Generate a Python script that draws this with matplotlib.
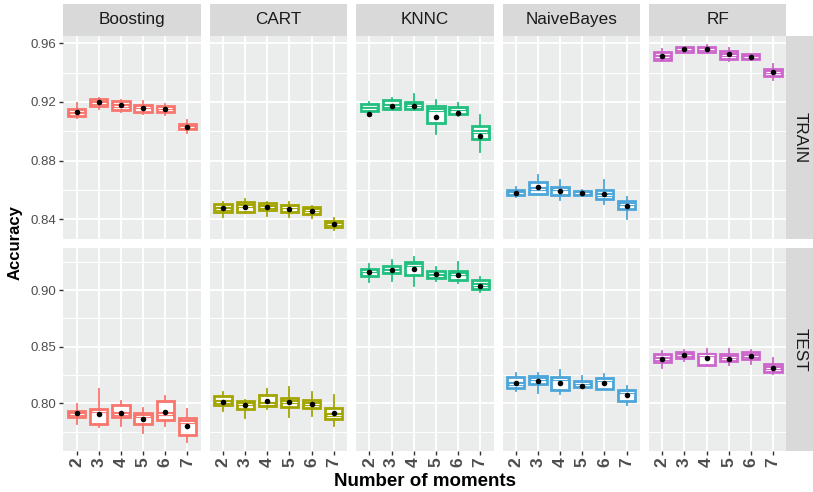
import numpy as np
import matplotlib.pyplot as plt
from matplotlib.ticker import FixedLocator

plt.rcParams['font.family'] = ['Liberation Sans', 'DejaVu Sans']

models = ["Boosting", "CART", "KNNC", "NaiveBayes", "RF"]
moments = ["2", "3", "4", "5", "6", "7"]
colors = ["#F8766D", "#A3A500", "#22BF80", "#4DA6D9", "#CC66CC"]
sets = ["TRAIN", "TEST"]

# box stats, one value per number of moments (2..7)
train_q1 = {
    "Boosting":   [0.9107, 0.9173, 0.9143, 0.9135, 0.9134, 0.9014],
    "CART":       [0.8450, 0.8450, 0.8464, 0.8448, 0.8435, 0.8348],
    "KNNC":       [0.9137, 0.9155, 0.9150, 0.9057, 0.9116, 0.8950],
    "NaiveBayes": [0.8564, 0.8573, 0.8566, 0.8564, 0.8537, 0.8469],
    "RF":         [0.9486, 0.9541, 0.9541, 0.9493, 0.9493, 0.9379],
}
train_q3 = {
    "Boosting":   [0.9152, 0.9220, 0.9207, 0.9180, 0.9173, 0.9050],
    "CART":       [0.8503, 0.8519, 0.8510, 0.8496, 0.8482, 0.8391],
    "KNNC":       [0.9186, 0.9214, 0.9202, 0.9173, 0.9166, 0.9039],
    "NaiveBayes": [0.8598, 0.8653, 0.8619, 0.8596, 0.8602, 0.8527],
    "RF":         [0.9539, 0.9573, 0.9573, 0.9545, 0.9525, 0.9425],
}
train_med = {
    "Boosting":   [0.9118, 0.9191, 0.9170, 0.9163, 0.9160, 0.9032],
    "CART":       [0.8469, 0.8491, 0.8482, 0.8482, 0.8464, 0.8365],
    "KNNC":       [0.9155, 0.9173, 0.9182, 0.9145, 0.9150, 0.8994],
    "NaiveBayes": [0.8582, 0.8605, 0.8605, 0.8582, 0.8566, 0.8507],
    "RF":         [0.9505, 0.9559, 0.9562, 0.9523, 0.9509, 0.9407],
}
train_lo = {
    "Boosting":   [0.9089, 0.9150, 0.9134, 0.9117, 0.9111, 0.8987],
    "CART":       [0.8418, 0.8442, 0.8423, 0.8414, 0.8407, 0.8330],
    "KNNC":       [0.9130, 0.9153, 0.9145, 0.8980, 0.9105, 0.8857],
    "NaiveBayes": [0.8555, 0.8573, 0.8530, 0.8560, 0.8507, 0.8400],
    "RF":         [0.9478, 0.9532, 0.9532, 0.9482, 0.9489, 0.9350],
}
train_hi = {
    "Boosting":   [0.9191, 0.9229, 0.9214, 0.9207, 0.9185, 0.9077],
    "CART":       [0.8519, 0.8537, 0.8517, 0.8515, 0.8491, 0.8410],
    "KNNC":       [0.9200, 0.9229, 0.9255, 0.9216, 0.9191, 0.9111],
    "NaiveBayes": [0.8621, 0.8703, 0.8669, 0.8600, 0.8669, 0.8550],
    "RF":         [0.9559, 0.9575, 0.9590, 0.9566, 0.9530, 0.9459],
}
train_mean = {
    "Boosting":   [0.9134, 0.9198, 0.9178, 0.9161, 0.9152, 0.9032],
    "CART":       [0.8476, 0.8485, 0.8485, 0.8469, 0.8455, 0.8371],
    "KNNC":       [0.9118, 0.9173, 0.9171, 0.9096, 0.9127, 0.8966],
    "NaiveBayes": [0.8582, 0.8621, 0.8594, 0.8582, 0.8571, 0.8489],
    "RF":         [0.9513, 0.9559, 0.9559, 0.9525, 0.9509, 0.9402],
}

test_q1 = {
    "Boosting":   [0.7876, 0.7817, 0.7876, 0.7814, 0.7850, 0.7723],
    "CART":       [0.7980, 0.7950, 0.7973, 0.7970, 0.7958, 0.7861],
    "KNNC":       [0.9127, 0.9148, 0.9130, 0.9104, 0.9091, 0.9006],
    "NaiveBayes": [0.8133, 0.8168, 0.8118, 0.8139, 0.8130, 0.8018],
    "RF":         [0.8360, 0.8401, 0.8342, 0.8374, 0.8389, 0.8280],
}
test_q3 = {
    "Boosting":   [0.7935, 0.7953, 0.7980, 0.7917, 0.8018, 0.7865],
    "CART":       [0.8065, 0.8024, 0.8074, 0.8044, 0.8029, 0.7962],
    "KNNC":       [0.9186, 0.9210, 0.9248, 0.9165, 0.9168, 0.9086],
    "NaiveBayes": [0.8233, 0.8245, 0.8233, 0.8197, 0.8227, 0.8115],
    "RF":         [0.8431, 0.8449, 0.8436, 0.8431, 0.8454, 0.8345],
}
test_med = {
    "Boosting":   [0.7903, 0.7932, 0.7903, 0.7888, 0.7903, 0.7835],
    "CART":       [0.8009, 0.7991, 0.7997, 0.8015, 0.7991, 0.7897],
    "KNNC":       [0.9165, 0.9165, 0.9224, 0.9127, 0.9145, 0.9045],
    "NaiveBayes": [0.8168, 0.8210, 0.8210, 0.8177, 0.8201, 0.8097],
    "RF":         [0.8392, 0.8422, 0.8422, 0.8410, 0.8413, 0.8312],
}
test_lo = {
    "Boosting":   [0.7814, 0.7790, 0.7799, 0.7741, 0.7799, 0.7661],
    "CART":       [0.7935, 0.7873, 0.7950, 0.7882, 0.7885, 0.7803],
    "KNNC":       [0.9073, 0.9082, 0.9032, 0.9080, 0.9062, 0.8980],
    "NaiveBayes": [0.8109, 0.8091, 0.8082, 0.8136, 0.8125, 0.7985],
    "RF":         [0.8307, 0.8369, 0.8325, 0.8334, 0.8345, 0.8254],
}
test_hi = {
    "Boosting":   [0.7997, 0.8124, 0.8018, 0.7962, 0.8065, 0.7947],
    "CART":       [0.8095, 0.8030, 0.8124, 0.8144, 0.8095, 0.8071],
    "KNNC":       [0.9227, 0.9263, 0.9292, 0.9206, 0.9245, 0.9115],
    "NaiveBayes": [0.8263, 0.8268, 0.8298, 0.8242, 0.8254, 0.8153],
    "RF":         [0.8458, 0.8469, 0.8478, 0.8478, 0.8469, 0.8401],
}
test_mean = {
    "Boosting":   [0.7912, 0.7909, 0.7917, 0.7858, 0.7926, 0.7799],
    "CART":       [0.8015, 0.7982, 0.8024, 0.8009, 0.7991, 0.7917],
    "KNNC":       [0.9157, 0.9177, 0.9189, 0.9139, 0.9133, 0.9035],
    "NaiveBayes": [0.8183, 0.8195, 0.8183, 0.8150, 0.8180, 0.8071],
    "RF":         [0.8395, 0.8422, 0.8401, 0.8395, 0.8419, 0.8310],
}

stats_by_set = {
    "TRAIN": (train_q1, train_q3, train_med, train_lo, train_hi, train_mean),
    "TEST": (test_q1, test_q3, test_med, test_lo, test_hi, test_mean),
}
ylims = {"TRAIN": (0.8268, 0.9652), "TEST": (0.7575, 0.9372)}
major_ticks = {"TRAIN": [0.84, 0.88, 0.92, 0.96], "TEST": [0.80, 0.85, 0.90]}
minor_ticks = {"TRAIN": [0.86, 0.90, 0.94], "TEST": [0.775, 0.825, 0.875, 0.925]}

W, H = 813, 492
fig = plt.figure(figsize=(W / 100, H / 100), dpi=100)


def px_axes(x0, y0, x1, y1):
    return fig.add_axes([x0 / W, 1 - y1 / H, (x1 - x0) / W, (y1 - y0) / H])


def blank(ax):
    ax.set_xticks([])
    ax.set_yticks([])
    for sp in ax.spines.values():
        sp.set_visible(False)


panel_left = 63.3
panel_w = 137.4
panel_step = 146.4
rows = [(35.7, 238.7), (248.0, 451.3)]
strip_bg = "#D9D9D9"
panel_bg = "#EBEDED"
text_grey = "#4D4D4D"

pos = np.arange(len(moments))

for r, s in enumerate(sets):
    q1s, q3s, meds, los, his, means = stats_by_set[s]
    y0, y1 = rows[r]
    for c, m in enumerate(models):
        x0 = panel_left + c * panel_step
        ax = px_axes(x0, y0, x0 + panel_w, y1)
        ax.set_facecolor(panel_bg)
        for sp in ax.spines.values():
            sp.set_visible(False)

        col = colors[c]
        bstats = []
        for i in range(len(moments)):
            bstats.append(dict(med=meds[m][i], q1=q1s[m][i], q3=q3s[m][i],
                               whislo=los[m][i], whishi=his[m][i], fliers=[]))
        ax.bxp(bstats, positions=pos, widths=0.78, patch_artist=True,
               showfliers=False, showcaps=False, manage_ticks=False,
               boxprops=dict(facecolor="white", edgecolor=col, lw=2.0),
               whiskerprops=dict(color=col, lw=1.3),
               medianprops=dict(color=col, lw=3.0, solid_capstyle="butt"),
               zorder=2)
        ax.hlines(meds[m], pos - 0.32, pos + 0.32, color="white", lw=0.8, zorder=3)
        ax.scatter(pos, means[m], s=16, color="black", zorder=4, linewidths=0)

        ax.set_xlim(-0.6, len(moments) - 0.4)
        ax.set_ylim(*ylims[s])
        ax.yaxis.set_major_locator(FixedLocator(major_ticks[s]))
        ax.yaxis.set_minor_locator(FixedLocator(minor_ticks[s]))
        ax.set_xticks(pos)
        ax.grid(True, which="major", color="white", lw=1.3, zorder=0)
        ax.grid(True, which="minor", axis="y", color="white", lw=0.7, zorder=0)
        ax.set_axisbelow(True)

        ax.tick_params(which="minor", length=0)
        ax.tick_params(which="major", length=3, width=1.0, color="#333333")
        if c == 0:
            ax.set_yticklabels(["{:.2f}".format(v) for v in major_ticks[s]],
                               fontsize=9.5, color=text_grey)
            ax.tick_params(axis="y", pad=2)
        else:
            ax.tick_params(axis="y", length=0, labelleft=False)
        if r == 1:
            ax.set_xticklabels(moments, rotation=90, fontsize=12.5,
                               fontweight="bold", color=text_grey)
            ax.tick_params(axis="x", pad=1.5)
        else:
            ax.tick_params(axis="x", length=0, labelbottom=False)

        if r == 0:
            st = px_axes(x0, 4, x0 + panel_w, y0)
            st.set_facecolor(strip_bg)
            blank(st)
            st.text(0.5, 0.5, m, ha="center", va="center", fontsize=12.3,
                    color="#1A1A1A", transform=st.transAxes)

    rs = px_axes(panel_left + 4 * panel_step + panel_w, y0, W, y1)
    rs.set_facecolor(strip_bg)
    blank(rs)
    rs.text(0.5, 0.5, s, ha="center", va="center", rotation=-90, fontsize=12.3,
            color="#1A1A1A", transform=rs.transAxes)

fig.text(15 / W, 1 - 243 / H, "Accuracy", rotation=90, ha="center", va="center",
         fontsize=12, fontweight="bold", color="black")
fig.text(425 / W, 1 - 481 / H, "Number of moments", ha="center", va="center",
         fontsize=13.5, fontweight="bold", color="black")

fig.savefig("out.png", dpi=100)
